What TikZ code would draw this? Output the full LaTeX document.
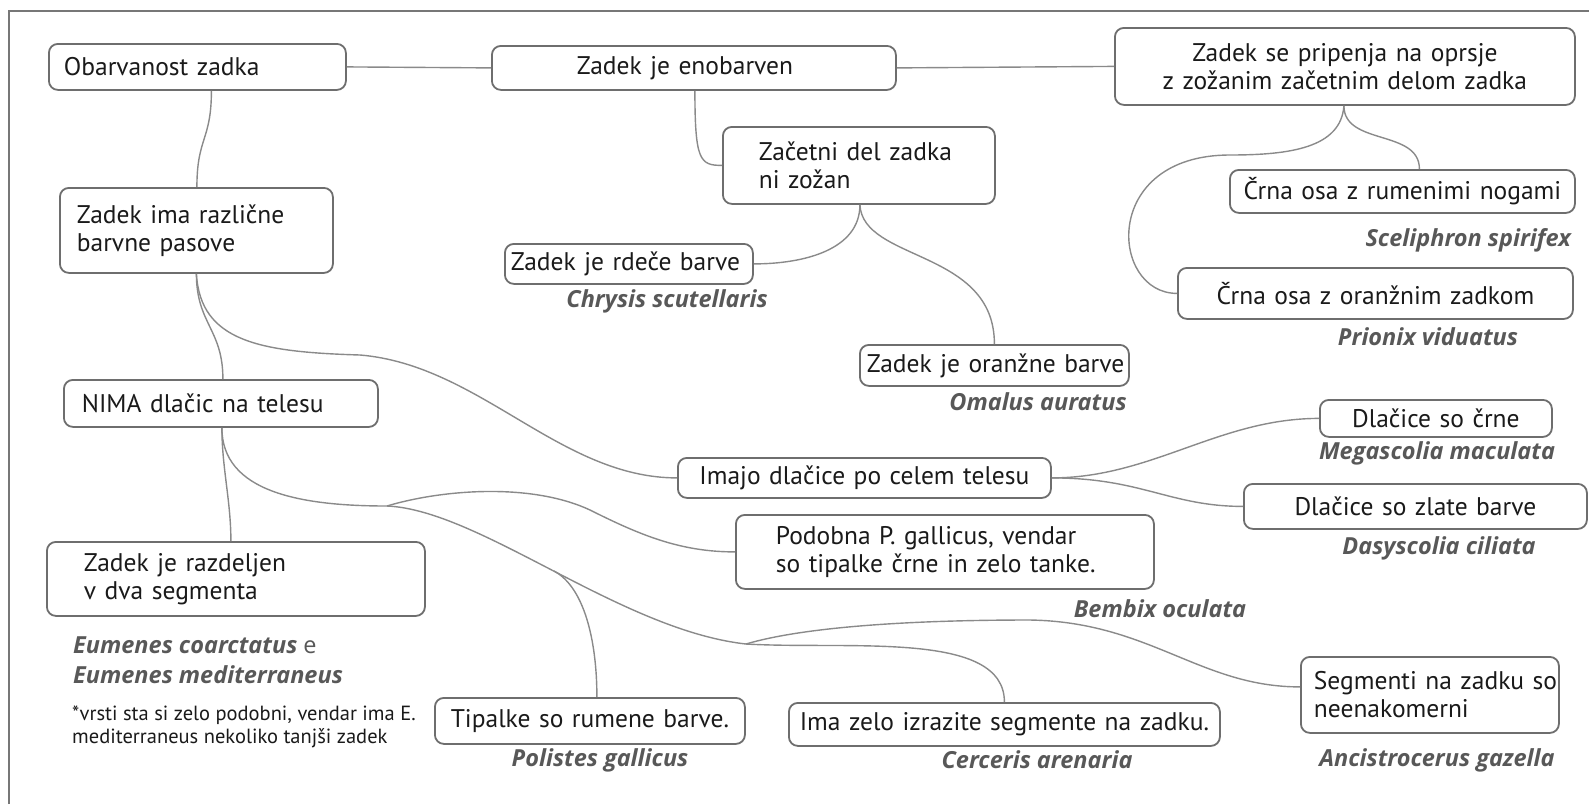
\documentclass[tikz,border=0pt]{standalone}
\usepackage{fontspec}
\setmainfont{PT Sans}
\newfontfamily\spfont{Open Sans}
\definecolor{boxc}{HTML}{6E6E6E}
\definecolor{linkc}{HTML}{8A8A8A}
\definecolor{txt}{HTML}{1A1A1A}
\definecolor{spc}{HTML}{585858}
\definecolor{framec}{HTML}{777777}
\begin{document}
\begin{tikzpicture}[x=1pt,y=-1pt,
  box/.style={draw=boxc, line width=1.8pt, rounded corners=9pt, fill=white, anchor=north west,
    inner ysep=0pt, text=txt, font=\fontsize{25.5}{28}\selectfont},
  lft/.style={align=left},
  ctr/.style={align=center},
  link/.style={draw=linkc, line width=1.4pt},
  sp/.style={font=\spfont\bfseries\itshape\fontsize{23.5}{26}\selectfont, text=spc, inner sep=0pt},
  notest/.style={font=\fontsize{20.5}{23}\selectfont, text=txt, inner sep=0pt, align=left, anchor=base west},
  framest/.style={draw=framec, line width=2pt}]
\useasboundingbox (0,0) rectangle (1589,804);
\draw[framest] (9,804) -- (9,11) -- (1589,11);

% boxes
\node[box,lft,minimum width=297,minimum height=46,text width=267,inner xsep=15] (obar) at (48,43) {\mbox{Obarvanost zadka}};
\node[box,lft,minimum width=404,minimum height=44,text width=234,inner xsep=85] (enob) at (491,45) {\mbox{Zadek je enobarven}};
\node[box,ctr,minimum width=460,minimum height=77,text width=440,inner xsep=10] (prip) at (1114,27) {\mbox{Zadek se pripenja na oprsje}\\\mbox{z zožanim začetnim delom zadka}};
\node[box,lft,minimum width=272,minimum height=77,text width=200,inner xsep=36] (zac) at (722,126) {\mbox{Začetni del zadka}\\\mbox{ni zožan}};
\node[box,lft,minimum width=273,minimum height=85,text width=239,inner xsep=17] (raz) at (59,187) {\mbox{Zadek ima različne}\\\mbox{barvne pasove}};
\node[box,lft,minimum width=248,minimum height=40,text width=236,inner xsep=6] (rdec) at (504,243) {\mbox{Zadek je rdeče barve}};
\node[box,ctr,minimum width=345,minimum height=43,text width=329,inner xsep=8] (crum) at (1229,169) {\mbox{Črna osa z rumenimi nogami}};
\node[box,ctr,minimum width=395,minimum height=51,text width=375,inner xsep=10] (cora) at (1177,267) {\mbox{Črna osa z oranžnim zadkom}};
\node[box,lft,minimum width=269,minimum height=41,text width=255,inner xsep=7] (oran) at (859,344) {\mbox{Zadek je oranžne barve}};
\node[box,lft,minimum width=314,minimum height=47,text width=278,inner xsep=18] (nima) at (63,379) {\mbox{NIMA dlačic na telesu}};
\node[box,ctr,minimum width=373,minimum height=40,text width=353,inner xsep=10] (imajo) at (677,457) {\mbox{Imajo dlačice po celem telesu}};
\node[box,ctr,minimum width=232,minimum height=37,text width=212,inner xsep=10] (dcrn) at (1319,399) {\mbox{Dlačice so črne}};
\node[box,ctr,minimum width=343,minimum height=45,text width=323,inner xsep=10] (dzl) at (1243,483) {\mbox{Dlačice so zlate barve}};
\node[box,lft,minimum width=418,minimum height=74,text width=338,inner xsep=40] (podob) at (735,514) {\mbox{Podobna P. gallicus, vendar}\\\mbox{so tipalke črne in zelo tanke.}};
\node[box,lft,minimum width=378,minimum height=74,text width=304,inner xsep=37] (razd) at (46,541) {\mbox{Zadek je razdeljen}\\\mbox{v dva segmenta}};
\node[box,ctr,minimum width=310,minimum height=46,text width=294,inner xsep=8] (tip) at (434,697) {\mbox{Tipalke so rumene barve.}};
\node[box,ctr,minimum width=431,minimum height=43,text width=415,inner xsep=8] (ima) at (788,702) {\mbox{Ima zelo izrazite segmente na zadku.}};
\node[box,lft,minimum width=258,minimum height=76,text width=232,inner xsep=13] (seg) at (1300,656) {\mbox{Segmenti na zadku so}\\\mbox{neenakomerni}};

% species labels
\node[sp] (chry) at (667,301) {Chrysis scutellaris};
\node[sp,anchor=east] (scel) at (1571,240) {Sceliphron spirifex};
\node[sp] (prio) at (1428,337) {Prionix viduatus};
\node[sp] (omal) at (1038,402) {Omalus auratus};
\node[sp] (mega) at (1437,453) {Megascolia maculata};
\node[sp] (dasy) at (1439,548) {Dasyscolia ciliata};
\node[sp] (bemb) at (1160,609) {Bembix oculata};
\node[sp] (poli) at (600,760) {Polistes gallicus};
\node[sp] (cerc) at (1037,760) {Cerceris arenaria};
\node[sp] (anci) at (1437,760) {Ancistrocerus gazella};
\node[sp,anchor=west] (eum1) at (73,645) {Eumenes coarctatus {\mdseries\upshape e}};
\node[sp,anchor=west] (eum2) at (73,675) {Eumenes mediterraneus};
\node[notest] (note) at (72,743) {*vrsti sta si zelo podobni, vendar ima E.\\mediterraneus nekoliko tanjši zadek};

% junctions
\coordinate (J1) at (387,506);
\coordinate (J2) at (746,644);
\coordinate (J3) at (554,571);
\coordinate (gmid) at (1230,155);
\coordinate (jmid) at (360,355);
\coordinate (pm) at (590,510);
\coordinate (pp) at (1030,620);

% connectors
\draw[link] (obar.east) -- (enob.west);
\draw[link] (enob.east) -- (prip.west);
\draw[link] ([xshift=1pt]enob.south) .. controls +(0,70) and +(-22,0) .. (zac.west);
\draw[link] ([xshift=1pt]zac.south) .. controls +(0,45) and +(50,0) .. (rdec.east);
\draw[link] ([xshift=1pt]zac.south) .. controls +(3,57) and +(0,-95) .. (oran.north);
\draw[link] ([xshift=-1pt]prip.south) .. controls +(0,40) and +(0,-40) .. ([xshift=17pt]crum.north);
\draw[link] ([xshift=-1pt]prip.south) .. controls +(-3,42) and +(60,0) .. (gmid) .. controls +(-130,0) and +(-67,0) .. (cora.west);
\draw[link] ([xshift=14pt]obar.south) .. controls +(0,50) and +(0,-50) .. ([xshift=0.5pt]raz.north);
\draw[link] (raz.south) .. controls +(0,50) and +(0,-50) .. ([xshift=2pt]nima.north);
\draw[link] (raz.south) .. controls +(4,68) and +(-100,-3) .. (jmid) .. controls +(120,10) and +(-117,0) .. (imajo.west);
\draw[link] ([xshift=1pt]nima.south) .. controls +(0,40) and +(0,-40) .. ([xshift=-5pt]razd.north);
\draw[link] ([xshift=1pt]nima.south) .. controls +(0,64) and +(-87,0) .. (J1);
\draw[link] (J1) .. controls +(53,-16) and +(-60,-28) .. (pm) .. controls +(50,25) and +(-55,0) .. (podob.west);
\draw[link] (J1) .. controls +(93,4) and +(-126,-14) .. (J2);
\draw[link] (J3) .. controls +(30,16) and +(0,-57) .. ([xshift=7pt]tip.north);
\draw[link] (J2) .. controls +(54,-16) and +(-130,0) .. (pp) .. controls +(120,2) and +(-100,0) .. ([yshift=8pt]seg.west);
\draw[link] (J2) .. controls +(104,6) and +(0,-72) .. (ima.north);
\draw[link] (imajo.east) .. controls +(100,0) and +(-100,0) .. (dcrn.west);
\draw[link] (imajo.east) .. controls +(90,0) and +(-73,0) .. (dzl.west);
\end{tikzpicture}
\end{document}
